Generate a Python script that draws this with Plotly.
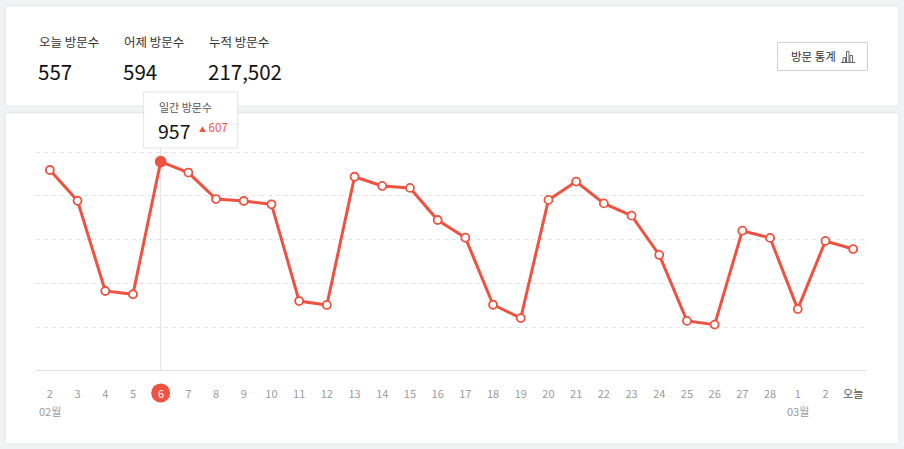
import plotly.graph_objects as go

# ---------------- data ----------------
day_labels = ["2", "3", "4", "5", "6", "7", "8", "9", "10", "11", "12", "13", "14", "15",
              "16", "17", "18", "19", "20", "21", "22", "23", "24", "25", "26", "27", "28",
              "1", "2", "오늘"]
visits = [919, 778, 365, 350, 957, 907, 786, 777, 762, 319, 301, 888, 846, 837, 690,
          609, 302, 241, 782, 866, 766, 710, 530, 228, 211, 641, 608, 282, 594, 557]
month_labels = ["02월", "03월"]
month_start_idx = [0, 27]
highlight_idx = 4
total_visits = "217,502"
stat_titles = ["오늘 방문수", "어제 방문수", "누적 방문수"]
grid_vals = [0, 200, 400, 600, 800, 1000]

# ---------------- style ----------------
W, H = 904, 449
RED = "#ef5240"
FONT = "Noto Sans CJK KR"
BG = "#f1f2f4"
BORDER = "#e2e4e8"


def px(x):
    return x / W


def py(y):
    return 1 - y / H


n = len(visits)
xs = list(range(n))
today_v = visits[-1]
yest_v = visits[-2]
hi_v = visits[highlight_idx]
hi_diff = visits[highlight_idx] - visits[highlight_idx - 1]

fig = go.Figure()

# main line
fig.add_trace(go.Scatter(
    x=xs, y=visits, mode="lines+markers", opacity=1,
    line=dict(color=RED, width=3),
    marker=dict(
        size=[10 if i == highlight_idx else 8 for i in xs],
        color=[RED if i == highlight_idx else "#ffffff" for i in xs],
        opacity=1,
        line=dict(color=RED, width=1.8),
    ),
    cliponaxis=False, hoverinfo="skip", showlegend=False,
))

ticktext = []
for i, lab in enumerate(day_labels):
    if i == highlight_idx:
        ticktext.append("")
    elif lab == "오늘":
        ticktext.append("<span style='color:#555'>" + lab + "</span>")
    else:
        ticktext.append(lab)

y_bottom_px = 370.7
unit_px = 0.2184
y_max = 1100
y_top_px = y_bottom_px - y_max * unit_px
tick_y_px = 393

fig.update_layout(
    width=W, height=H, autosize=False,
    margin=dict(l=0, r=0, t=0, b=0, pad=0),
    paper_bgcolor=BG, plot_bgcolor="rgba(0,0,0,0)",
    font=dict(family=FONT, color="#333"),
    xaxis=dict(
        domain=[px(36), px(867)], range=[-0.5, n - 0.5],
        tickvals=xs, ticktext=ticktext,
        ticks="outside", ticklen=13, tickcolor="rgba(0,0,0,0)",
        tickfont=dict(size=11, color="#9a9a9a", family=FONT),
        showgrid=False, zeroline=False, showline=False, fixedrange=True,
    ),
    yaxis=dict(
        domain=[py(y_bottom_px), py(y_top_px)], range=[0, y_max],
        tickvals=grid_vals, showticklabels=False,
        showgrid=True, gridcolor="#e4e4e4", griddash="4px,4px", gridwidth=1,
        zeroline=True, zerolinecolor="#e0e0e0", zerolinewidth=1,
        showline=False, fixedrange=True,
    ),
)

shapes = []
# cards
shapes.append(dict(type="rect", xref="paper", yref="paper", x0=px(5), x1=px(899),
                   y0=py(106), y1=py(6), fillcolor="white", line=dict(color=BORDER, width=1),
                   layer="below"))
shapes.append(dict(type="rect", xref="paper", yref="paper", x0=px(5), x1=px(899),
                   y0=py(444), y1=py(113), fillcolor="white", line=dict(color=BORDER, width=1),
                   layer="below"))
# button
shapes.append(dict(type="rect", xref="paper", yref="paper", x0=px(777.5), x1=px(867.5),
                   y0=py(70.5), y1=py(42.5), fillcolor="white", line=dict(color="#cfcfcf", width=1)))
# button icon (small bar chart)
icon_col = "#666"
shapes.append(dict(type="line", xref="paper", yref="paper", x0=px(841), x1=px(855),
                   y0=py(62.5), y1=py(62.5), line=dict(color=icon_col, width=1)))
for (bx0, bx1, top) in [(843, 845.5, 57.5), (846.5, 849, 51.5), (850, 852.5, 55.5)]:
    shapes.append(dict(type="rect", xref="paper", yref="paper", x0=px(bx0), x1=px(bx1),
                       y0=py(62.5), y1=py(top), line=dict(color=icon_col, width=1),
                       fillcolor="rgba(0,0,0,0)"))
# hover guide line
shapes.append(dict(type="line", xref="x", yref="y", x0=highlight_idx, x1=highlight_idx,
                   y0=0, y1=1030, line=dict(color="#e2e2e2", width=1), layer="below"))
# tooltip box
shapes.append(dict(type="rect", xref="x", xsizemode="pixel", xanchor=highlight_idx,
                   x0=-17, x1=77, yref="paper", y0=py(148), y1=py(92),
                   fillcolor="white", line=dict(color="#e4e4e4", width=1), layer="above"))
# highlighted day circle under the tick label
shapes.append(dict(type="circle", xref="x", xsizemode="pixel", xanchor=highlight_idx,
                   x0=-9.5, x1=9.5, yref="paper", ysizemode="pixel", yanchor=py(tick_y_px),
                   y0=-9.5, y1=9.5, fillcolor=RED, line=dict(width=0), layer="above"))
fig.update_layout(shapes=shapes)

ann = []
stat_values = [f"{today_v:,}", f"{yest_v:,}", total_visits]
stat_x = [37, 122, 207]
for t, v, x in zip(stat_titles, stat_values, stat_x):
    ann.append(dict(text=t, xref="paper", yref="paper", x=px(x), y=py(41.5),
                    xanchor="left", yanchor="middle", showarrow=False,
                    font=dict(size=12.5, color="#333", family=FONT)))
    ann.append(dict(text=v, xref="paper", yref="paper", x=px(x - 1), y=py(71),
                    xanchor="left", yanchor="middle", showarrow=False,
                    font=dict(size=20.5, color="#111", family=FONT)))
ann.append(dict(text="방문 통계", xref="paper", yref="paper", x=px(789), y=py(56.5),
                xanchor="left", yanchor="middle", showarrow=False,
                font=dict(size=11.5, color="#333", family=FONT)))
# highlighted day number
ann.append(dict(text=day_labels[highlight_idx], xref="x", yref="paper", x=highlight_idx,
                y=py(tick_y_px), xanchor="center", yanchor="middle", showarrow=False,
                font=dict(size=11, color="white", family=FONT)))
# month labels
for lab, idx in zip(month_labels, month_start_idx):
    ann.append(dict(text=lab, xref="x", yref="paper", x=idx, y=py(411),
                    xanchor="center", yanchor="middle", showarrow=False,
                    font=dict(size=11, color="#9a9a9a", family=FONT)))
# tooltip content
ann.append(dict(text="일간 방문수", xref="x", yref="paper", x=highlight_idx, xshift=-4,
                y=py(107), xanchor="left", yanchor="middle", showarrow=False,
                font=dict(size=11, color="#555", family=FONT)))
ann.append(dict(text=f"{hi_v:,}", xref="x", yref="paper", x=highlight_idx, xshift=-5,
                y=py(131), xanchor="left", yanchor="middle", showarrow=False,
                font=dict(size=19.5, color="#111", family=FONT)))
ann.append(dict(text=f"<span style='font-size:7px'>▲</span> {hi_diff:,}", xref="x", yref="paper",
                x=highlight_idx, xshift=36, y=py(127), xanchor="left", yanchor="middle",
                showarrow=False, font=dict(size=11.5, color=RED, family=FONT)))
fig.update_layout(annotations=ann)

fig.write_html("out.html", config={"displayModeBar": False},
               post_script="document.body.style.margin='0';")
